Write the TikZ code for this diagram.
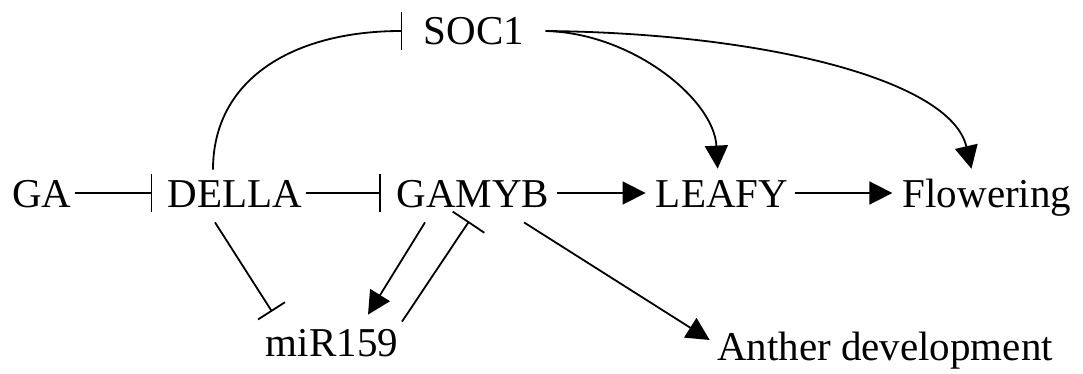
\documentclass[tikz,border=0pt]{standalone}
\usepackage{fontspec}
\setmainfont{Liberation Serif}
\usetikzlibrary{arrows.meta}

\begin{document}
\begin{tikzpicture}[
    x=0.5pt, y=-0.5pt,
    gene/.style={
        inner sep=1.5pt,
        anchor=base,
        text height=14pt,
        text depth=0pt,
        font=\fontsize{20.5}{24}\selectfont
    },
    act/.style={
        -{Triangle[length=11.5pt, width=11.5pt]},
        line width=0.9pt,
        shorten <=2pt,
        shorten >=3.5pt
    },
    inh/.style={
        -{Bar[width=19pt]},
        line width=0.9pt,
        shorten >=6pt
    }
]
\useasboundingbox (0,0) rectangle (1083,374);

\node[gene] (GA) at (42,207) {GA};
\node[gene] (DELLA) at (235,207) {DELLA};
\node[gene] (GAMYB) at (473,207) {GAMYB};
\node[gene] (LEAFY) at (722,207) {LEAFY};
\node[gene] (Flowering) at (987,207) {Flowering};
\node[gene] (SOC1) at (474,45) {SOC1};
\node[gene] (miR159) at (332,357) {miR159};
\node[gene] (Anther) at (885,360) {Anther development};

% main row
\draw[inh] (GA) -- (DELLA);
\draw[inh] (DELLA) -- (GAMYB);
\draw[act] (GAMYB) -- (LEAFY);
\draw[act] (LEAFY) -- (Flowering);

% SOC1 branch
\draw[inh, shorten >=9pt] ([xshift=-11pt, yshift=3pt]DELLA.north)
    .. controls +(0,-90) and +(-128,0) .. (SOC1.west);
\draw[act, shorten <=0pt] ([xshift=9pt]SOC1.east)
    .. controls +(87,2) and +(-4,-76) .. ([xshift=-2pt]LEAFY.north);
\draw[act, shorten <=0pt] ([xshift=9pt]SOC1.east)
    .. controls +(217,2) and +(-22,-96) .. ([xshift=-7pt]Flowering.north);

% miR159 loop
\draw[inh, shorten >=0pt, -{Bar[width=16pt]}] ([xshift=-10pt, yshift=-6pt]DELLA.south)
    -- ([xshift=-30pt, yshift=7pt]miR159.north);
\draw[act, shorten <=0pt, shorten >=0pt] ([xshift=-24pt, yshift=-6pt]GAMYB.south)
    -- ([xshift=18pt, yshift=5.5pt]miR159.north);
\draw[inh, shorten >=0pt] ([xshift=35pt, yshift=2pt]miR159.north)
    -- ([xshift=-2pt, yshift=-5.5pt]GAMYB.south);

\draw[act, shorten <=0pt, shorten >=0pt] ([xshift=25.5pt, yshift=-6pt]GAMYB.south)
    -- ([xshift=-2pt, yshift=3pt]Anther.west);

\end{tikzpicture}
\end{document}
